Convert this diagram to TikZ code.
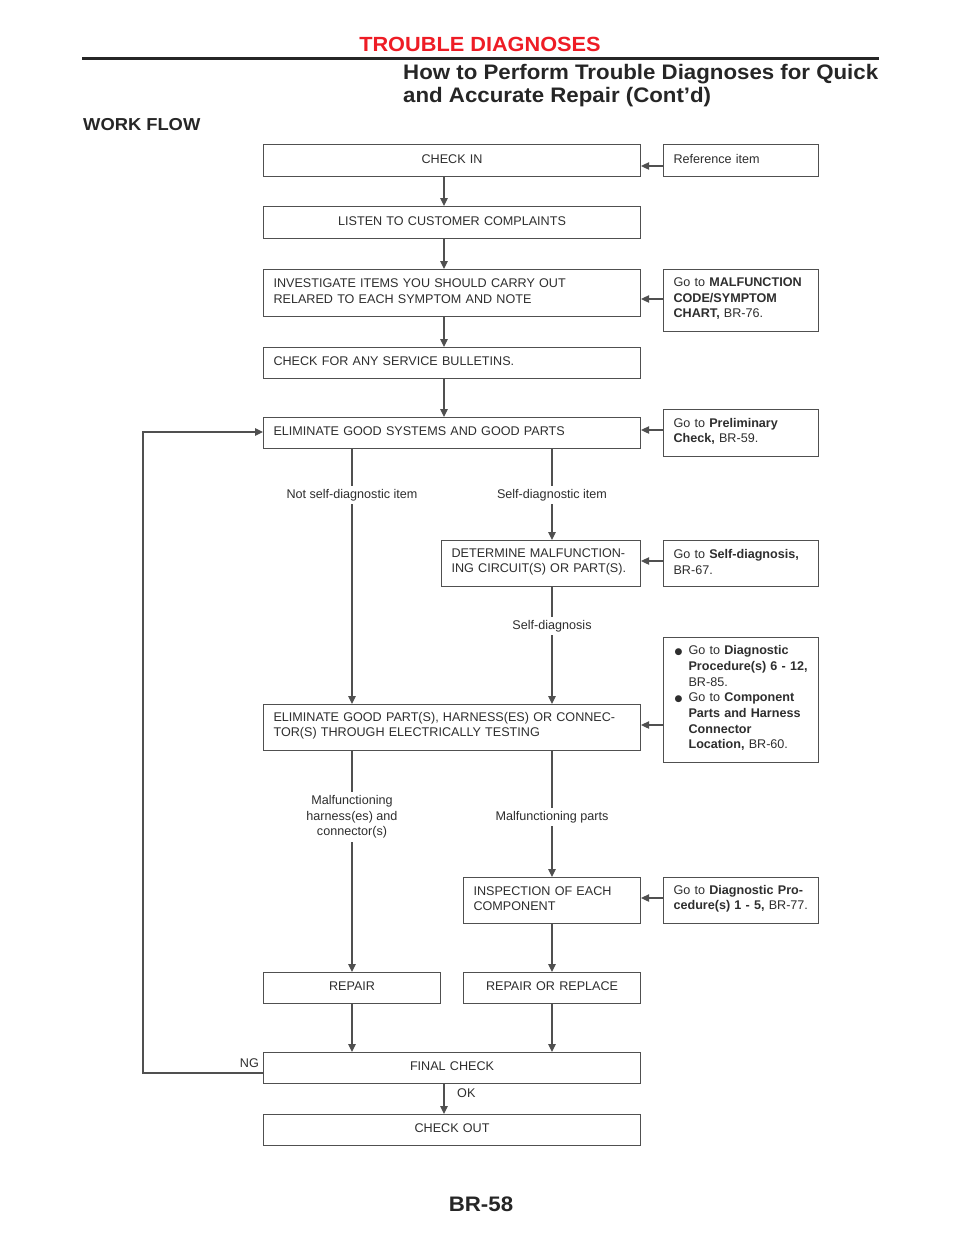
\documentclass[tikz,border=0pt]{standalone}
\usepackage{fontspec}
\setmainfont{Liberation Sans}
\newfontfamily\dejavu{DejaVu Sans}
\newfontfamily\hdfont[FakeStretch=1.06]{Liberation Sans}
\usetikzlibrary{arrows.meta}
\definecolor{red1}{HTML}{EE1C25}
\definecolor{txt}{HTML}{2E2E2E}
\definecolor{lngray}{HTML}{505050}
\newcommand\bodyf{\fontsize{12.6}{15.7}\selectfont}
\newcommand\bul{\llap{{\dejavu\fontsize{9}{9}\selectfont ●}\hspace{6pt}}}
\newcommand\boxpadbottom{\par\vspace*{3.5pt}}
\begin{document}
\begin{tikzpicture}[x=1pt,y=-1pt,
  box/.style={draw=lngray, line width=1.1pt, inner xsep=10pt, inner ysep=0pt,
    anchor=north west, font=\bodyf, text=txt, align=left,
    execute at end node=\boxpadbottom},
  mainbox/.style={box, text width=357pt},
  sidebox/.style={box, text width=135pt},
  ln/.style={draw=lngray, line width=1.1pt},
  arr/.style={ln, -{Triangle[length=8pt,width=7.5pt]}},
  lab/.style={fill=white, inner xsep=1pt, inner ysep=3pt, font=\bodyf, text=txt, align=center}
]
\useasboundingbox[fill=white] (0,0) rectangle (960,1242);

% header
\node[anchor=base, font=\hdfont\bfseries\fontsize{20.5}{24}\selectfont, text=red1] (hd) at (480,51) {TROUBLE DIAGNOSES};
\coordinate (rl) at (82,58.5);
\coordinate (rr) at (879,58.5);
\draw[line width=3pt, black!85] (rl) -- (rr);
\node[anchor=base west, inner sep=0pt, font=\hdfont\bfseries\fontsize{21}{23}\selectfont, text=black!85] (t1) at (403,79) {How to Perform Trouble Diagnoses for Quick};
\node[anchor=base west, inner sep=0pt, font=\hdfont\bfseries\fontsize{21}{23}\selectfont, text=black!85] (t2) at (403,102) {and Accurate Repair (Cont’d)};
\node[anchor=base west, inner sep=0pt, font=\hdfont\bfseries\fontsize{17.3}{22}\selectfont, text=black!85] (wf) at (83,130) {WORK FLOW};
\node[anchor=base, inner sep=0pt, font=\hdfont\bfseries\fontsize{21}{24}\selectfont, text=black!85] (pg) at (481,1211) {BR-58};

% main column boxes
\node[mainbox, align=center, minimum height=32pt] (checkin) at (263,144) {CHECK IN};
\node[mainbox, align=center, minimum height=32pt] (listen) at (263,206) {LISTEN TO CUSTOMER COMPLAINTS};
\node[mainbox, minimum height=47pt] (invest) at (263,269) {INVESTIGATE ITEMS YOU SHOULD CARRY OUT\\RELARED TO EACH SYMPTOM AND NOTE};
\node[mainbox, minimum height=31pt] (bull) at (263,347) {CHECK FOR ANY SERVICE BULLETINS.};
\node[mainbox, minimum height=31pt] (elim1) at (263,417) {ELIMINATE GOOD SYSTEMS AND GOOD PARTS};
\node[box, text width=179pt, minimum height=46pt] (determ) at (441,540) {DETERMINE MALFUNCTION-\\ING CIRCUIT(S) OR PART(S).};
\node[mainbox, minimum height=46pt] (elim2) at (263,704) {ELIMINATE GOOD PART(S), HARNESS(ES) OR CONNEC-\\TOR(S) THROUGH ELECTRICALLY TESTING};
\node[box, text width=157pt, minimum height=46pt] (insp) at (463,877) {INSPECTION OF EACH\\COMPONENT};
\node[box, text width=157pt, align=center, minimum height=31pt] (repair) at (263,972) {REPAIR};
\node[box, text width=157pt, align=center, minimum height=31pt] (reprep) at (463,972) {REPAIR OR REPLACE};
\node[mainbox, align=center, minimum height=31pt] (final) at (263,1052) {FINAL CHECK};
\node[mainbox, align=center, minimum height=31pt] (chout) at (263,1114) {CHECK OUT};

% side boxes
\node[sidebox, minimum height=32pt] (ref) at (663,144) {Reference item};
\node[sidebox, minimum height=62pt] (malf) at (663,269) {Go to \textbf{MALFUNCTION}\\\textbf{CODE/SYMPTOM}\\\textbf{CHART,} BR-76.};
\node[sidebox, minimum height=47pt] (prelim) at (663,409) {Go to \textbf{Preliminary}\\\textbf{Check,} BR-59.};
\node[sidebox, minimum height=46pt] (selfd) at (663,540) {Go to \textbf{Self-diagnosis,}\\BR-67.};
\node[sidebox, minimum height=125pt] (diag) at (663,637) {\hspace*{15pt}\bul Go to \textbf{Diagnostic}\\
\hspace*{15pt}\textbf{Procedure(s) 6 - 12,}\\
\hspace*{15pt}BR-85.\\
\hspace*{15pt}\bul Go to \textbf{Component}\\
\hspace*{15pt}\textbf{Parts and Harness}\\
\hspace*{15pt}\textbf{Connector}\\
\hspace*{15pt}\textbf{Location,} BR-60.};
\node[sidebox, minimum height=46pt] (dpro) at (663,877) {Go to \textbf{Diagnostic Pro-}\\\textbf{cedure(s) 1 - 5,} BR-77.};

% helper coordinates
\coordinate (mx) at (444,0);
\coordinate (lx) at (352,0);
\coordinate (rx) at (552,0);
\coordinate (ya) at (0,166);
\coordinate (yb) at (0,299);
\coordinate (yc) at (0,430);
\coordinate (yd) at (0,561);
\coordinate (ye) at (0,725);
\coordinate (yf) at (0,898);
\coordinate (fbl) at (143,1073);
\coordinate (fbt) at (143,432);

% side arrows
\draw[arr] (ref.west |- ya) -- (checkin.east |- ya);
\draw[arr] (malf.west |- yb) -- (invest.east |- yb);
\draw[arr] (prelim.west |- yc) -- (elim1.east |- yc);
\draw[arr] (selfd.west |- yd) -- (determ.east |- yd);
\draw[arr] (diag.west |- ye) -- (elim2.east |- ye);
\draw[arr] (dpro.west |- yf) -- (insp.east |- yf);

% main flow
\draw[arr] (checkin.south -| mx) -- (listen.north -| mx);
\draw[arr] (listen.south -| mx) -- (invest.north -| mx);
\draw[arr] (invest.south -| mx) -- (bull.north -| mx);
\draw[arr] (bull.south -| mx) -- (elim1.north -| mx);
\draw[arr] (elim1.south -| lx) -- (elim2.north -| lx);
\draw[arr] (elim1.south -| rx) -- (determ.north -| rx);
\draw[arr] (determ.south -| rx) -- (elim2.north -| rx);
\draw[arr] (elim2.south -| lx) -- (repair.north -| lx);
\draw[arr] (elim2.south -| rx) -- (insp.north -| rx);
\draw[arr] (insp.south -| rx) -- (reprep.north -| rx);
\draw[arr] (repair.south -| lx) -- (final.north -| lx);
\draw[arr] (reprep.south -| rx) -- (final.north -| rx);
\draw[arr] (final.south -| mx) -- (chout.north -| mx);
\draw[arr] (final.west |- fbl) -- (fbl) -- (fbt) -- (elim1.west |- fbt);

% labels
\node[lab] (l1) at (352,495) {Not self-diagnostic item};
\node[lab] (l2) at (552,495) {Self-diagnostic item};
\node[lab] (l3) at (552,626) {Self-diagnosis};
\node[lab] (l4) at (352,817) {Malfunctioning\\harness(es) and\\connector(s)};
\node[lab] (l5) at (552,817) {Malfunctioning parts};
\node[lab, anchor=west] (ok) at (456,1093) {OK};
\node[lab, anchor=east] (ng) at (260,1063) {NG};
\end{tikzpicture}
\end{document}
